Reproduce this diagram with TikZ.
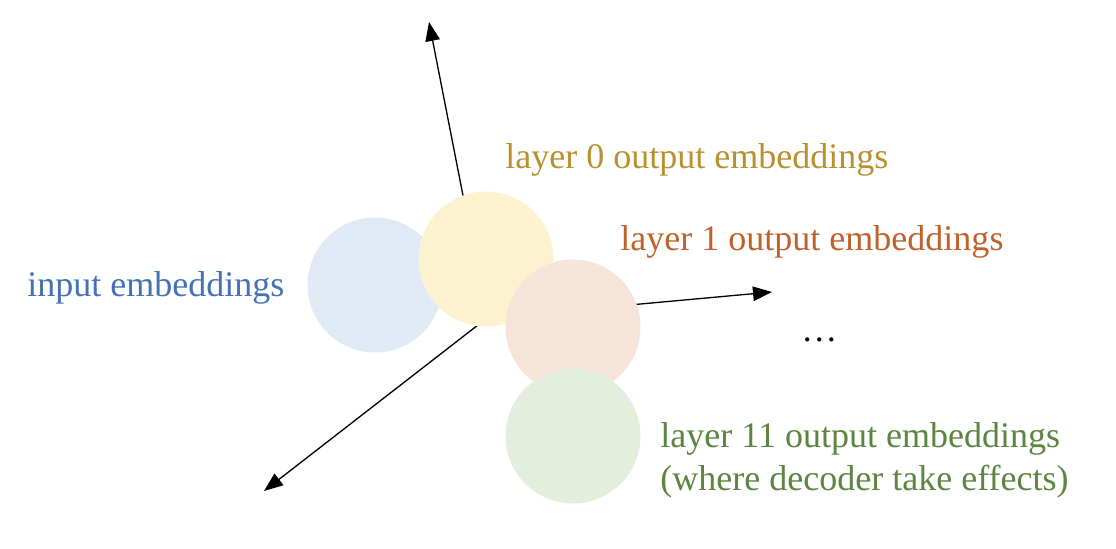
\documentclass[tikz,border=0pt]{standalone}
\usepackage{fontspec}
\setmainfont{Liberation Serif}
\usetikzlibrary{arrows.meta}

\definecolor{inblue}{HTML}{4472B4}
\definecolor{zgold}{HTML}{B8902F}
\definecolor{oneorange}{HTML}{C0612B}
\definecolor{lastgreen}{HTML}{5B8540}
\definecolor{fillblue}{HTML}{E0EAF5}
\definecolor{fillyellow}{HTML}{FDF2CF}
\definecolor{fillpeach}{HTML}{F7E4D8}
\definecolor{fillgreen}{HTML}{E3EFDC}

\tikzset{
  blob/.style={circle,draw=none,minimum size=2.7cm,inner sep=0pt},
  lbl/.style={anchor=west,inner sep=0pt,font=\fontsize{20.5}{24.5}\selectfont},
  axis/.style={line width=0.75pt,-{Triangle[length=0.38cm,width=0.29cm]}}
}

\begin{document}
\begin{tikzpicture}[x=0.02cm,y=-0.02cm]
\useasboundingbox (0,0) rectangle (1116,548);
\coordinate (O) at (487,318); \coordinate (U) at (429,22);
\coordinate (R) at (772,292); \coordinate (D) at (264,491);
\draw[axis] (O)--(U); \draw[axis] (O)--(R); \draw[axis] (O)--(D);
\node[blob,fill=fillblue] (emb) at (375,285) {};
\node[blob,fill=fillyellow] (l0) at (486,259) {};
\node[blob,fill=fillpeach] (l1) at (573,327) {};
\node[blob,fill=fillgreen] (l11) at (573,436) {};
\node[lbl,text=inblue] (tin) at (27,288) {input embeddings};
\node[lbl,text=zgold] (t0) at (505,160) {layer 0 output embeddings};
\node[lbl,text=oneorange] (t1) at (620,242) {layer 1 output embeddings};
\node[lbl] (dots) at (801,340) {\dots};
\node[lbl,text=lastgreen,align=left] (t11) at (660,460) {layer 11 output embeddings\\(where decoder take effects)};
\end{tikzpicture}
\end{document}
